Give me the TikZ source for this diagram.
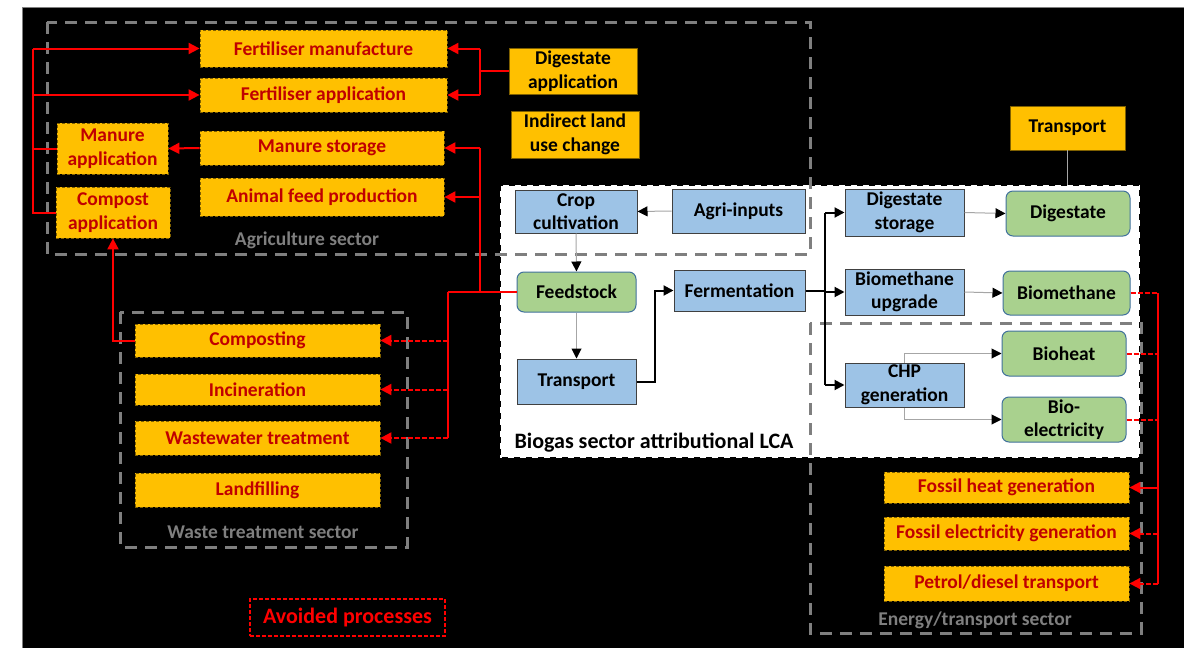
\documentclass[tikz,border=0pt]{standalone}
\usepackage{fontspec}
\setmainfont{Carlito}
\usetikzlibrary{arrows.meta,calc}
\definecolor{org}{HTML}{FFC000}
\definecolor{orgb}{HTML}{7F6000}
\definecolor{dred}{HTML}{C00000}
\definecolor{blu}{HTML}{9DC3E6}
\definecolor{bbord}{HTML}{404040}
\definecolor{grn}{HTML}{A9D18E}
\definecolor{gbord}{HTML}{41719C}
\definecolor{sgray}{HTML}{7F7F7F}
\definecolor{lgray}{HTML}{A6A6A6}
\begin{document}
\begin{tikzpicture}[x=1pt,y=-1pt,
  font=\fontsize{19.5}{23.5}\selectfont\bfseries,
  obox/.style={draw=orgb, dash pattern=on 3pt off 2pt, line width=0.8pt, fill=org, text=dred, inner sep=0pt, align=center},
  sbox/.style={draw=orgb, line width=0.8pt, fill=org, text=black, inner sep=0pt, align=center},
  bbox/.style={draw=bbord, line width=1pt, fill=blu, text=black, inner sep=0pt, align=center},
  gbox/.style={draw=gbord, line width=1pt, fill=grn, text=black, rounded corners=7pt, inner sep=0pt, align=center},
  sector/.style={draw=sgray, line width=3pt, dash pattern=on 12pt off 8pt},
  slabel/.style={text=sgray, inner sep=0pt},
  rline/.style={draw=red, line width=2pt},
  rarrow/.style={rline, -{Triangle[length=11pt,width=11pt]}},
  rdash/.style={rline, dash pattern=on 5pt off 2pt},
  rdarrow/.style={rarrow, dash pattern=on 5pt off 2pt},
  garrow/.style={draw=lgray, line width=1pt, -{Triangle[length=10pt,width=10pt,color=black]}},
  bline/.style={draw=black, line width=2pt},
  barrow/.style={bline, -{Triangle[length=10pt,width=10pt]}},
]
\useasboundingbox (0,0) rectangle (1184,648);
\fill[white] (0,0) rectangle (1184,648);
\fill[black] (22,7) rectangle (1184,648);
\draw[sgray, line width=1pt] (22,648) -- (22,7) -- (1184,7);

% biogas white area
\node[fill=white, minimum width=640pt, minimum height=273pt, inner sep=0pt] (bio) at (820,321.5) {};
\draw[black, line width=2.5pt, dash pattern=on 6pt off 6pt] (bio.north west) rectangle (bio.south east);

% sector boxes
\draw[sector] (47,22) rectangle (810,254);
\draw[sector] (120,312) rectangle (407,547);
\draw[sector] (810,323) rectangle (1141,633);
\node[slabel] (agrl) at (307,240) {Agriculture sector};
\node[slabel] (wstl) at (263,532) {Waste treatment sector};
\node[slabel] (engl) at (975,620) {Energy/transport sector};
\node[inner sep=0pt, font=\fontsize{22}{26}\selectfont\bfseries] (biol) at (654,443) {Biogas sector attributional LCA};

% agriculture
\node[obox, minimum width=247pt, minimum height=37pt] (fm) at (323.5,48.5) {Fertiliser manufacture};
\node[obox, minimum width=247pt, minimum height=34pt] (fa) at (323.5,95) {Fertiliser application};
\node[obox, minimum width=111pt, minimum height=51pt] (ma) at (112.5,148.5) {Manure\\application};
\node[obox, minimum width=244pt, minimum height=34pt] (ms) at (322,148) {Manure storage};
\node[obox, minimum width=244pt, minimum height=38pt] (af) at (322,197) {Animal feed production};
\node[obox, minimum width=114pt, minimum height=51pt] (ca) at (113,212.5) {Compost\\application};
\node[sbox, minimum width=128pt, minimum height=46pt] (da) at (573,71) {Digestate\\application};
\node[sbox, minimum width=128pt, minimum height=47pt] (il) at (575,134.5) {Indirect land\\use change};
\node[sbox, minimum width=115pt, minimum height=44pt] (tp) at (1067.5,128) {Transport};

% waste
\node[obox, minimum width=245pt, minimum height=33pt] (cp) at (257.5,340.5) {Composting};
\node[obox, minimum width=245pt, minimum height=31pt] (inc) at (257.5,389.5) {Incineration};
\node[obox, minimum width=245pt, minimum height=34pt] (ww) at (257.5,438) {Wastewater treatment};
\node[obox, minimum width=245pt, minimum height=34pt] (lf) at (257.5,490) {Landfilling};

% legend
\node[draw=red, line width=1.5pt, dash pattern=on 4pt off 2pt, text=red, minimum width=195pt, minimum height=37pt, inner sep=0pt, font=\fontsize{22}{26}\selectfont\bfseries] (av) at (347.5,617.5) {Avoided processes};

% biogas
\node[bbox, minimum width=122pt, minimum height=43pt] (cc) at (576,211.5) {Crop\\cultivation};
\node[bbox, minimum width=133pt, minimum height=44pt] (ai) at (738.5,211) {Agri-inputs};
\node[gbox, minimum width=119pt, minimum height=40pt] (fs) at (576.5,292) {Feedstock};
\node[bbox, minimum width=119pt, minimum height=45pt] (tr) at (576.5,381.5) {Transport};
\node[bbox, minimum width=131pt, minimum height=41pt] (fe) at (739.5,290.5) {Fermentation};
\node[bbox, minimum width=119pt, minimum height=47pt] (ds) at (904.5,212.5) {Digestate\\storage};
\node[gbox, minimum width=124pt, minimum height=45pt] (dg) at (1068,213.5) {Digestate};
\node[bbox, minimum width=119pt, minimum height=46pt] (bu) at (904.5,292) {Biomethane\\upgrade};
\node[gbox, minimum width=127pt, minimum height=44pt] (bm) at (1066.5,293) {Biomethane};
\node[gbox, minimum width=124pt, minimum height=45pt] (bh) at (1064,353.5) {Bioheat};
\node[bbox, minimum width=119pt, minimum height=44pt] (chp) at (904.5,385) {CHP\\generation};
\node[gbox, minimum width=124pt, minimum height=45pt] (be) at (1064,419.5) {Bio-\\electricity};

% energy
\node[obox, minimum width=245pt, minimum height=31pt] (fh) at (1006.5,487.5) {Fossil heat generation};
\node[obox, minimum width=245pt, minimum height=33pt] (fel) at (1006.5,533.5) {Fossil electricity generation};
\node[obox, minimum width=245pt, minimum height=35pt] (pd) at (1006.5,583.5) {Petrol/diesel transport};

% junction x-positions
\coordinate (lx) at (33,0);
\coordinate (dx) at (480,0);
\coordinate (wx) at (448,0);
\coordinate (tx) at (655,0);
\coordinate (fx) at (825,0);
\coordinate (ex) at (1158,0);

% red connectors: agriculture left
\draw[rline] (ca.west) -- (ca.west -| lx) -- (fm.west -| lx);
\draw[rline] (ma.west) -- (ma.west -| lx);
\draw[rarrow] (fm.west -| lx) -- (fm.west);
\draw[rarrow] (fa.west -| lx) -- (fa.west);
\draw[rarrow] (ms.west) -- (ma.east);
% digestate application
\draw[rline] (da.west) -- (da.west -| dx);
\draw[rline] (fm.east -| dx) -- (fa.east -| dx);
\draw[rarrow] (fm.east -| dx) -- (fm.east);
\draw[rarrow] (fa.east -| dx) -- (fa.east);
% feedstock
\draw[rline] (fs.west) -- (fs.west -| wx);
\draw[rline] (fs.west -| dx) -- (ms.east -| dx);
\draw[rarrow] (ms.east -| dx) -- (ms.east);
\draw[rarrow] (af.east -| dx) -- (af.east);
\draw[rline] (fs.west -| wx) -- (ww.east -| wx);
\draw[rdarrow] (cp.east -| wx) -- (cp.east);
\draw[rdarrow] (inc.east -| wx) -- (inc.east);
\draw[rdarrow] (ww.east -| wx) -- (ww.east);
% composting to compost application
\draw[rarrow] (cp.west) -| (ca.south);
% energy
\draw[rdash] (bm.east) -- (bm.east -| ex);
\draw[rdash] (bh.east) -- (bh.east -| ex);
\draw[rdash] (be.east) -- (be.east -| ex);
\draw[rline] (bm.east -| ex) -- (pd.east -| ex);
\draw[rarrow] (fh.east -| ex) -- (fh.east);
\draw[rdarrow] (fel.east -| ex) -- (fel.east);
\draw[rdarrow] (pd.east -| ex) -- (pd.east);

% biogas connectors
\draw[garrow] (ai.west) -- (cc.east);
\draw[garrow] (cc.south) -- (fs.north);
\draw[garrow] (fs.south) -- (tr.north);
\draw[barrow] (tr.east) -- (tr.east -| tx) |- (fe.west);
\draw[bline] (fe.east) -- (fe.east -| fx);
\draw[bline] (ds.west -| fx) -- (chp.west -| fx);
\draw[barrow] (ds.west -| fx) -- (ds.west);
\draw[barrow] (bu.west -| fx) -- (bu.west);
\draw[barrow] (chp.west -| fx) -- (chp.west);
\draw[garrow] (ds.east) -- (dg.west);
\draw[garrow] (bu.east) -- (bm.west);
\draw[garrow] (chp.north) |- (bh.west);
\draw[garrow] (chp.south) |- (be.west);
\draw[draw=lgray, line width=1pt] (tp.south) -- (tp.south |- bio.north);
\end{tikzpicture}
\end{document}
